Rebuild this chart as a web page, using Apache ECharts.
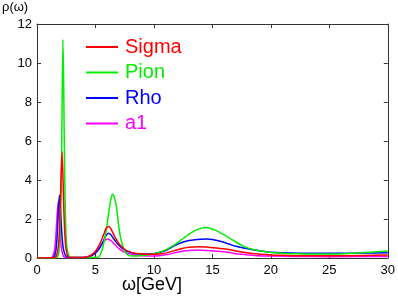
<!DOCTYPE html>
<html><head><meta charset="utf-8">
<script src="https://cdn.jsdelivr.net/npm/echarts@6/dist/echarts.min.js"></script>
<style>html,body{margin:0;padding:0;background:#fff}#c{width:398px;height:296px}</style>
</head><body><div id="c"></div>
<script>
var seriesNames = ['Sigma','Pion','Rho','a1'];
var seriesColors = ['#ff0000','#00ee00','#0000ff','#ff00ff'];
var xTicks = [0,5,10,15,20,25,30];
var yTicks = [0,2,4,6,8,10,12];

var sigmaX = [0,1.5,1.65,1.78,1.88,1.97,2.05,2.14,2.22,2.3,2.4,2.5,2.62,2.8,3.2,4.0,4.5,5.0,5.4,5.7,5.9,6.1,6.3,6.6,7.0,7.5,8.0,8.5,9,10,11,12,12.5,13,13.8,14.5,15.5,16.4,17,17.8,18.9,20,21,23,26,30];
var sigmaY = [0,0.02,0.1,0.4,1.0,2.2,4.0,5.45,4.2,2.4,1.0,0.4,0.12,0.03,0.02,0.03,0.1,0.35,0.75,1.2,1.5,1.61,1.52,1.15,0.75,0.45,0.3,0.23,0.2,0.19,0.25,0.42,0.5,0.55,0.58,0.56,0.5,0.44,0.36,0.28,0.2,0.16,0.14,0.11,0.12,0.15];

var pionX = [0,1.6,1.8,1.9,2.0,2.08,2.15,2.22,2.29,2.36,2.44,2.52,2.62,2.75,2.9,3.5,4.5,5.2,5.5,5.8,6.0,6.2,6.35,6.47,6.6,6.8,7.0,7.2,7.5,7.8,8.1,8.5,9,9.5,10,10.5,11,11.5,12,12.5,13,13.5,14,14.4,14.8,15.3,15.8,16.4,17,17.5,18,18.9,20,21,22,23.4,25,26.2,27.5,28.5,29.6,30];
var pionY = [0,0.01,0.1,0.5,1.8,4.0,8.0,11.2,8.5,4.5,2.0,0.8,0.3,0.1,0.03,0.02,0.02,0.03,0.3,1.0,1.75,2.6,3.1,3.27,3.15,2.6,1.6,0.9,0.35,0.15,0.1,0.1,0.13,0.17,0.22,0.3,0.42,0.58,0.78,1.0,1.22,1.4,1.52,1.56,1.53,1.42,1.25,1.05,0.82,0.65,0.52,0.38,0.28,0.24,0.22,0.2,0.2,0.22,0.26,0.3,0.34,0.36];

var rhoX = [0,1.35,1.5,1.62,1.72,1.82,1.92,2.0,2.08,2.17,2.28,2.42,2.6,2.8,3.5,4.0,4.5,5.0,5.4,5.7,5.9,6.1,6.3,6.6,7.0,7.5,8.0,8.5,9,9.5,10,11,11.5,12,12.5,13,13.5,14,14.5,15,15.5,16.4,17,17.8,18.9,20,21,23.4,26,28,30];
var rhoY = [0,0.02,0.1,0.4,1.1,2.3,3.23,2.7,1.7,0.9,0.4,0.15,0.04,0.02,0.02,0.03,0.08,0.25,0.55,0.9,1.15,1.27,1.2,0.95,0.65,0.4,0.28,0.22,0.2,0.2,0.22,0.38,0.55,0.7,0.82,0.9,0.94,0.96,0.97,0.95,0.88,0.72,0.6,0.5,0.38,0.3,0.27,0.24,0.24,0.25,0.27];

var a1X = [0,1.2,1.35,1.5,1.6,1.7,1.81,1.9,1.98,2.07,2.17,2.3,2.45,3.0,4.0,4.5,5.0,5.4,5.7,6.0,6.3,6.6,7.0,7.5,8.0,8.5,9,10,11,12,12.5,13,13.7,14.5,15.5,16.4,17,17.8,18.9,20,22,25,30];
var a1Y = [0,0.01,0.08,0.4,1.0,2.0,2.89,2.3,1.3,0.6,0.25,0.06,0.02,0.02,0.03,0.1,0.3,0.6,0.85,0.96,0.9,0.72,0.48,0.3,0.2,0.14,0.11,0.1,0.16,0.3,0.36,0.39,0.41,0.39,0.34,0.29,0.22,0.18,0.12,0.1,0.08,0.07,0.08];

function zip(xs, ys){ return xs.map(function(x,i){ return [x, ys[i]]; }); }
var allX = [sigmaX, pionX, rhoX, a1X];
var allY = [sigmaY, pionY, rhoY, a1Y];

var axisCol = '#333';
var font = 'Liberation Sans, Arial, Helvetica, sans-serif';
var chart = echarts.init(document.getElementById('c'), null, {renderer:'canvas'});
var series = seriesNames.map(function(n,i){
  return {name:n, type:'line', xAxisIndex:0, yAxisIndex:0, data: zip(allX[i], allY[i]),
    showSymbol:false, smooth:0.25, lineStyle:{color:seriesColors[i], width:1.5}, itemStyle:{color:seriesColors[i]}, z: 10 - i};
});
var baseX = {type:'value', min:xTicks[0], max:xTicks[xTicks.length-1], interval:5,
  axisLine:{show:true, onZero:false, lineStyle:{color:axisCol, width:1}},
  axisTick:{show:true, inside:true, length:4, lineStyle:{color:axisCol}},
  splitLine:{show:false}};
var baseY = {type:'value', min:yTicks[0], max:yTicks[yTicks.length-1], interval:2,
  axisLine:{show:true, onZero:false, lineStyle:{color:axisCol, width:1}},
  axisTick:{show:true, inside:true, length:4, lineStyle:{color:axisCol}},
  splitLine:{show:false}};
chart.setOption({
  animation:false,
  backgroundColor:'#fff',
  grid:{left:37, right:7, top:24, bottom:38, containLabel:false},
  legend:{orient:'vertical', left:86, top:37, padding:0, itemWidth:32, itemHeight:2, itemGap:5.5, icon:'rect',
    data: seriesNames.map(function(n,i){ return {name:n, textStyle:{color:seriesColors[i]}}; }),
    textStyle:{fontSize:20, fontFamily:font, padding:[0,0,0,2]}},
  xAxis:[
    Object.assign({}, baseX, {position:'bottom', axisLabel:{color:'#000', fontSize:13, fontFamily:font, margin:6}}),
    Object.assign({}, baseX, {position:'top', axisLabel:{show:false}})
  ],
  yAxis:[
    Object.assign({}, baseY, {position:'left', axisLabel:{color:'#000', fontSize:13, fontFamily:font, margin:5}}),
    Object.assign({}, baseY, {position:'right', axisLabel:{show:false}})
  ],
  graphic:[
    {type:'text', left:2, top:1, style:{text:'ρ(ω)', font:'13px '+font, fill:'#000'}},
    {type:'text', left:122, top:276, style:{text:'ω[GeV]', font:'18px '+font, fill:'#000'}}
  ],
  series: series
});
</script></body></html>
